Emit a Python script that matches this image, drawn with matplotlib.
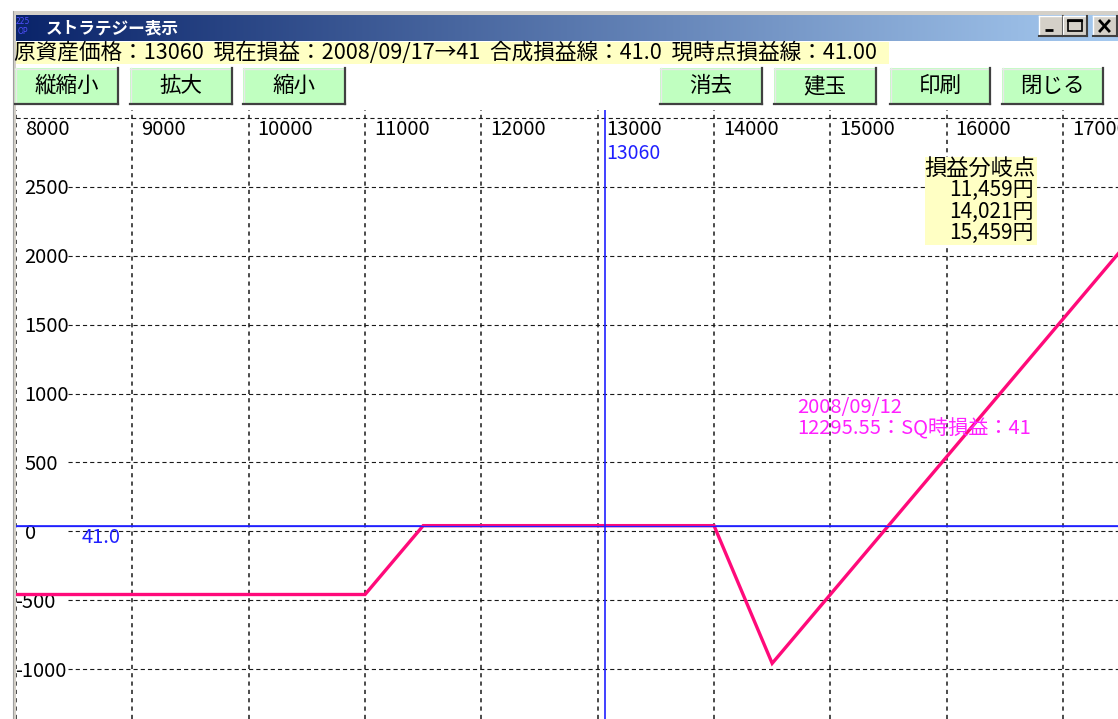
import matplotlib
matplotlib.use("Agg")
import matplotlib.pyplot as plt
import matplotlib.patches as patches
from matplotlib import transforms as mtransforms
import numpy as np

plt.rcParams['font.family'] = ['Noto Sans CJK JP', 'DejaVu Sans']
plt.rcParams['lines.scale_dashes'] = False

# --- chart values ---
pay_x = [7900, 11000, 11500, 14000, 14500, 17500]   # underlying price
pay_y = [-459, -459, 41, 41, -959, 2041]             # SQ profit/loss
now_pl = 41.0
spot = 13060
x_ticks = [8000, 9000, 10000, 11000, 12000, 13000, 14000, 15000, 16000, 17000]
y_ticks = [3000, 2500, 2000, 1500, 1000, 500, 0, -500, -1000]
be_title = '損益分岐点'
be_points = ['11,459円', '14,021円', '15,459円']
info_text = '原資産価格：13060  現在損益：2008/09/17→41  合成損益線：41.0  現時点損益線：41.00'
win_title = 'ストラテジー表示'
buttons_left = ['縦縮小', '拡大', '縮小']
buttons_right = ['消去', '建玉', '印刷', '閉じる']
sq_date = '2008/09/12'
sq_text = '12295.55：SQ時損益：41'

W, H = 1118, 719
fig = plt.figure(figsize=(W / 100, H / 100), dpi=100)
fig.patch.set_facecolor('white')

# window chrome drawn in pixel space
ui = fig.add_axes([0, 0, 1, 1])
ui.set_xlim(0, W)
ui.set_ylim(H, 0)
ui.axis('off')

frame = '#D4D0C8'
ui.add_patch(patches.Rectangle((13, 11), W - 13, 4, fc=frame, ec='none'))
ui.add_patch(patches.Rectangle((13, 11), 2.5, H - 11, fc=frame, ec='none'))
ui.plot([13, 13], [11, H], color='#A0A0A0', lw=0.8)

# title bar gradient
grad = np.linspace(0, 1, 256)
c0 = np.array([10, 36, 106]) / 255
c1 = np.array([166, 202, 240]) / 255
img = (c0[None, :] * (1 - grad[:, None]) + c1[None, :] * grad[:, None])[None, :, :]
ui.imshow(img, extent=(15.5, W, 41, 15), aspect='auto', interpolation='bilinear')
ui.set_xlim(0, W)
ui.set_ylim(H, 0)
ui.text(16, 21, '225', color='#5050FF', fontsize=5.5, va='center', family='DejaVu Sans')
ui.text(18, 32, 'OP', color='#5050FF', fontsize=5.5, va='center', family='DejaVu Sans')
ui.text(46, 28, win_title, color='white', fontsize=12, fontweight='bold', va='center')

# title bar buttons
for bx, kind in [(1039, 'min'), (1063, 'max'), (1093, 'close')]:
    ui.add_patch(patches.Rectangle((bx, 16), 24, 20, fc=frame, ec='none'))
    ui.plot([bx, bx + 24], [16, 16], color='white', lw=1)
    ui.plot([bx, bx], [16, 36], color='white', lw=1)
    ui.plot([bx, bx + 24], [36, 36], color='#404040', lw=1.5)
    ui.plot([bx + 24, bx + 24], [16, 36], color='#404040', lw=1.5)
    if kind == 'min':
        ui.plot([bx + 6, bx + 14], [30, 30], color='black', lw=2, solid_capstyle='butt')
    elif kind == 'max':
        ui.add_patch(patches.Rectangle((bx + 5, 20), 14, 11, fc='none', ec='black', lw=1.2))
        ui.plot([bx + 5, bx + 19], [21, 21], color='black', lw=1.5)
    else:
        ui.plot([bx + 7, bx + 16], [21, 31], color='black', lw=2)
        ui.plot([bx + 7, bx + 16], [31, 21], color='black', lw=2)

# info strip
ui.add_patch(patches.Rectangle((15.5, 42), 873, 22, fc='#FFFFC4', ec='none'))
ui.text(14, 53, info_text, fontsize=15.6, va='center', color='black')

# buttons
def draw_button(x0, x1, label):
    y0, y1 = 68, 104
    ui.add_patch(patches.Rectangle((x0, y0), x1 - x0, y1 - y0, fc='#C0FFC0', ec='none'))
    ui.plot([x0, x1], [y0 + 0.5, y0 + 0.5], color='#E8E8E8', lw=1)
    ui.plot([x0 + 0.5, x0 + 0.5], [y0, y1], color='#E8E8E8', lw=1)
    ui.plot([x0, x1], [y1, y1], color='#404040', lw=1.6)
    ui.plot([x1, x1], [y0, y1], color='#404040', lw=1.6)
    ui.text((x0 + x1) / 2, (y0 + y1) / 2, label, fontsize=15.5, ha='center', va='center')

left_x = [(15, 118), (130, 232), (243, 345)]
right_x = [(660, 762), (774, 876), (890, 990), (1002, 1103)]
for (a, b), lab in zip(left_x, buttons_left):
    draw_button(a, b, lab)
for (a, b), lab in zip(right_x, buttons_right):
    draw_button(a, b, lab)

# --- plot area ---
ax = fig.add_axes([15.5 / W, 0, (W - 15.5) / W, (H - 110) / H])
ax.set_xlim(7995, 17473)
ax.set_ylim(-1363, 3059)
ax.axis('off')

px = ui.transData

for v in x_ticks:
    ax.axvline(v, color='#1A1A1A', lw=1.1, dashes=(3, 3), zorder=1)
for v in y_ticks:
    start = 0 if v == y_ticks[0] else 0.048
    ax.axhline(v, xmin=start, color='#1A1A1A', lw=0.8, dashes=(3, 2.2), zorder=1)

xlab_tr = mtransforms.offset_copy(
    mtransforms.blended_transform_factory(ax.transData, ax.transAxes),
    fig=fig, x=9, y=-9, units='dots')
for v in x_ticks:
    ax.text(v, 1, str(v), transform=xlab_tr, fontsize=14.5, ha='left', va='top', zorder=3)

ylab_base = mtransforms.blended_transform_factory(ax.transAxes, ax.transData)
for v in y_ticks[1:]:
    off = 0 if v < 0 else 9
    tr = mtransforms.offset_copy(ylab_base, fig=fig, x=off, y=-2, units='dots')
    ax.text(0, v, str(v), transform=tr, fontsize=14.5, ha='left', va='center', zorder=3)

# current P/L line and spot line
ax.axhline(now_pl, color='#2020FF', lw=1.2, zorder=4)
ax.axvline(spot, color='#2020FF', lw=1.2, zorder=6)
ax.plot(pay_x, pay_y, color='#FF0A7A', lw=2.4, zorder=5, solid_joinstyle='miter')
ax.axhline(now_pl, color='#2020FF', lw=0.9, zorder=5.5)

pl_tr = mtransforms.offset_copy(ylab_base, fig=fig, x=66, y=-1, units='dots')
ax.text(0, now_pl, '%.1f' % now_pl, transform=pl_tr, fontsize=14.5, color='#2020FF',
        ha='left', va='top', zorder=7)
sp_tr = mtransforms.offset_copy(
    mtransforms.blended_transform_factory(ax.transData, ax.transAxes),
    fig=fig, x=2, y=-33, units='dots')
ax.text(spot, 1, str(spot), transform=sp_tr, fontsize=14, color='#2020FF',
        ha='left', va='top', zorder=7)

# break-even box
ax.add_patch(patches.Rectangle((925, 157), 112, 88, transform=px, fc='#FFFFC4',
                               ec='none', zorder=8))
ax.text(1036, 168, be_title, transform=px, fontsize=16, ha='right', va='center', zorder=9)
for i, s in enumerate(be_points):
    ax.text(1034, 190 + 21.5 * i, s, transform=px, fontsize=15, ha='right', va='center', zorder=9)

# SQ annotation
ax.text(797, 408, sq_date, transform=px, fontsize=14.5, color='#FF20FF', va='center', zorder=9)
ax.text(797, 429, sq_text, transform=px, fontsize=14.5, color='#FF20FF', va='center', zorder=9)

fig.savefig('out.png', dpi=100)
